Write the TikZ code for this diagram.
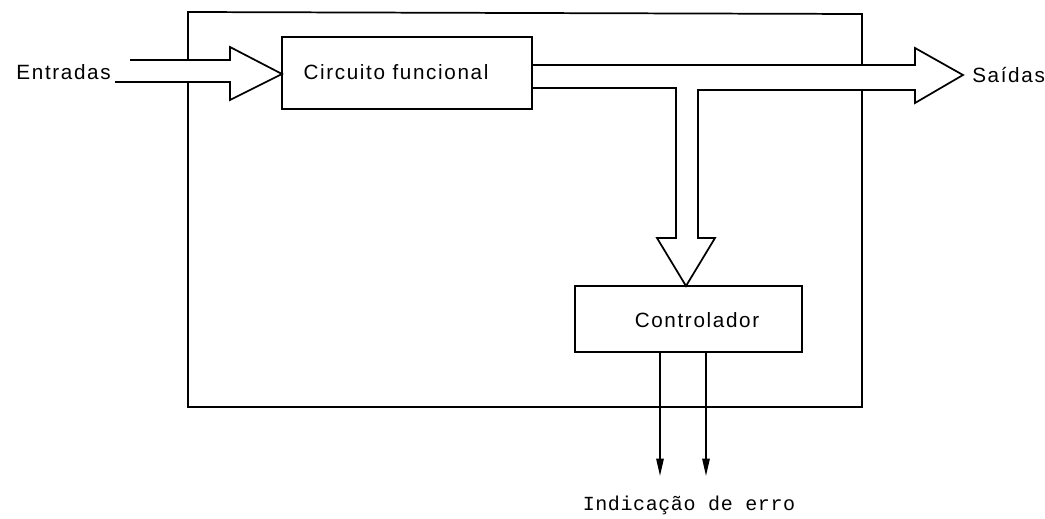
\documentclass[tikz,border=0pt]{standalone}
\usepackage{fontspec}
\setmainfont{Liberation Sans}[LetterSpace=8]
\newfontfamily\monof{Liberation Mono}[LetterSpace=3]
\usetikzlibrary{arrows.meta}
\tikzset{
  ln/.style={line width=1.3pt, line join=miter},
  lbl/.style={font=\fontsize{15.5}{17}\selectfont, inner sep=0pt},
  sig/.style={line width=1.3pt, -{Triangle[length=13pt,width=5.5pt]}}
}
\begin{document}
\begin{tikzpicture}[x=0.75pt,y=-0.75pt]
\useasboundingbox (0,0) rectangle (1045,518);
% outer box
\draw[ln] (188,60) -- (188,12) -- (862,14) -- (862,65);
\draw[ln] (862,90) -- (862,407) -- (188,407) -- (188,82);
% functional circuit
\draw[ln] (282,37) rectangle (532,109);
\node[lbl] (cf) at (396,72) {Circuito funcional};
% controller
\draw[ln] (575,286) rectangle (802,352);
\node[lbl] (ctl) at (697,320) {Controlador};
% input arrow
\node[lbl, anchor=east] (in) at (111,72) {Entradas};
\draw[ln] (130,60) -- (230,60) -- (230,47) -- (282,74) -- (230,100) -- (230,82) -- (115,82);
% output arrow and branch
\node[lbl, anchor=west] (out) at (972,75) {Saídas};
\draw[ln] (532,65) -- (915,65) -- (915,48) -- (963,75) -- (915,103) -- (915,90)
  -- (698,90) -- (698,238) -- (715,238) -- (686,286) -- (657,238) -- (676,238)
  -- (676,88) -- (532,88);
% error outputs
\coordinate (e1) at (660,476);
\coordinate (e2) at (706,476);
\draw[sig] (660,352) -- (e1);
\draw[sig] (706,352) -- (e2);
\node[font=\monof\fontsize{15}{17}\selectfont, inner sep=0pt] (err) at (689,505) {Indicação de erro};
\end{tikzpicture}
\end{document}
